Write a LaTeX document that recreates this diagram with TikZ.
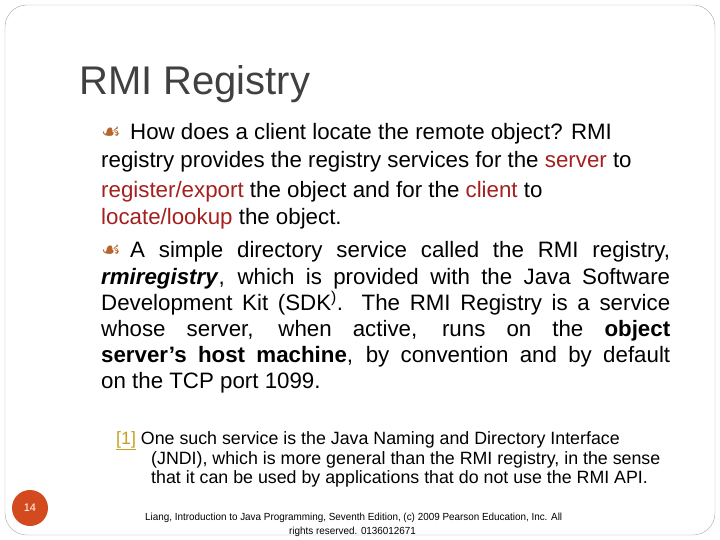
\documentclass[tikz,border=0pt]{standalone}
\usepackage{fontspec}
\setmainfont{Liberation Sans}
\newfontfamily\dejavu{DejaVu Sans}
\definecolor{hl}{HTML}{A3201E}
\definecolor{bul}{HTML}{B5652E}
\definecolor{pg}{HTML}{D24A1E}
\definecolor{fn}{HTML}{C8A020}
\begin{document}
\begin{tikzpicture}[x=1pt,y=-1pt,
  ln/.style={anchor=base west,inner sep=0pt,font=\fontsize{22.3}{26}\selectfont},
  fnl/.style={anchor=base west,inner sep=0pt,font=\fontsize{17.8}{20}\selectfont},
  ft/.style={anchor=base west,inner sep=0pt,font=\fontsize{10.3}{11}\selectfont\addfontfeature{FakeStretch=0.96}},
  bl/.style={anchor=base west,inner sep=0pt,text=bul,font=\dejavu\fontsize{22}{24}\selectfont}]
\useasboundingbox (0,0) rectangle (720,540);
\draw[gray!70,rounded corners=22pt] (5,5) rectangle (715,535);
\node[anchor=base west,inner sep=0pt,font=\fontsize{40}{44}\selectfont,text=black!75] (title) at (79,95) {RMI Registry};
\node[bl] (b1) at (101,140) {☙};
\node[ln] (l1) at (130,140) {How does a client locate the remote object? RMI};
\node[ln] (l2) at (101,168) {registry provides the registry services for the \textcolor{hl}{server} to};
\node[ln] (l3) at (101,197) {\textcolor{hl}{register/export} the object and for the \textcolor{hl}{client} to};
\node[ln] (l4) at (101,225) {\textcolor{hl}{locate/lookup} the object.};
\node[bl] (b2) at (101,258) {☙};
\node[ln] (m1) at (130,258) {\makebox[540pt][s]{A simple directory service called the RMI registry,}};
\node[ln] (m2) at (101,284) {\makebox[569pt][s]{\textbf{\textit{rmiregistry}}, which is provided with the Java Software}};
\node[ln] (m3) at (101,310) {\makebox[569pt][s]{Development Kit (SDK\textsuperscript{)}. The RMI Registry is a service}};
\node[ln] (m4) at (101,336) {\makebox[569pt][s]{whose server, when active, runs on the \textbf{object}}};
\node[ln] (m5) at (101,362) {\makebox[569pt][s]{\textbf{server’s host machine}, by convention and by default}};
\node[ln] (m6) at (101,388) {on the TCP port 1099.};
\node[fnl] (f1) at (116,444) {\textcolor{fn}{\underline{[1]}} One such service is the Java Naming and Directory Interface};
\node[fnl] (f2) at (151,464) {(JNDI), which is more general than the RMI registry, in the sense};
\node[fnl] (f3) at (151,483) {that it can be used by applications that do not use the RMI API.};
\fill[pg] (30,508) circle (18);
\node[text=white,font=\fontsize{11}{12}\selectfont] (pn) at (30,508) {14};
\node[ft] (c1) at (145,520) {Liang, Introduction to Java Programming, Seventh Edition, (c) 2009 Pearson Education, Inc. All};
\node[ft] (c2) at (289,534) {rights reserved. 0136012671};
\end{tikzpicture}
\end{document}
